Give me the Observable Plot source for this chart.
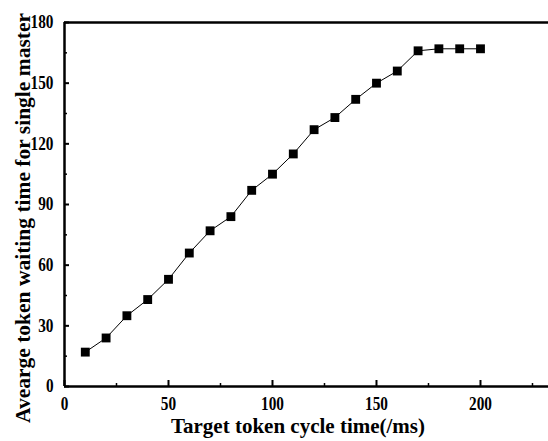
<!DOCTYPE html>
<html><head><meta charset="utf-8">
<script src="https://cdn.jsdelivr.net/npm/d3@7"></script>
<script src="https://cdn.jsdelivr.net/npm/@observablehq/plot@0.6"></script>
<style>
html,body{margin:0;padding:0;background:#fff;}
svg{font-family:"Liberation Serif","Times New Roman",serif;}
</style>
</head><body>
<div id="chart"></div>
<script>
const cycleTime = [10,20,30,40,50,60,70,80,90,100,110,120,130,140,150,160,170,180,190,200];
const waitTime = [17,24,35,43,53,66,77,84,97,105,115,127,133,142,150,156,166,167,167,167];
const xMajor = [0,50,100,150,200];
const xMinor = [25,75,125,175,225];
const yMajor = [0,30,60,90,120,150,180];
const yMinor = [15,45,75,105,135,165];
const xLabel = "Target token cycle time(/ms)";
const yLabel = "Avearge token waiting time for single master";

const data = cycleTime.map((x,i)=>({x, y: waitTime[i]}));
const W = 548, H = 441, mL = 64, mR = 0, mT = 22, mB = 55;
const frameH = H - mT - mB, frameW = W - mL - mR;
const serif = '"Liberation Serif","Times New Roman",serif';

const plot = Plot.plot({
  width: W, height: H,
  marginLeft: mL, marginRight: mR, marginTop: mT, marginBottom: mB,
  style: {fontFamily: serif, background: "#fff"},
  x: {domain: [0, 232.7]},
  y: {domain: [0, 180]},
  marks: [
    Plot.axisX({ticks: xMajor, tickSize: 0, tickPadding: 11, label: null, fontSize: 18, fontWeight: "bold", fill: "#000"}),
    Plot.axisY({ticks: yMajor, tickSize: 0, tickPadding: 11, label: null, fontSize: 18, fontWeight: "bold", fill: "#000"}),
    Plot.tickX(xMajor, {x: d=>d, insetTop: frameH - 6, stroke: "#000", strokeWidth: 2}),
    Plot.tickX(xMinor, {x: d=>d, insetTop: frameH - 3, stroke: "#000", strokeWidth: 1.5}),
    Plot.tickY(yMajor, {y: d=>d, insetRight: frameW - 5, stroke: "#000", strokeWidth: 2}),
    Plot.tickY(yMinor, {y: d=>d, insetRight: frameW - 3, stroke: "#000", strokeWidth: 1.5}),
    Plot.ruleY([0], {stroke: "#000", strokeWidth: 2.5}),
    Plot.ruleY([180], {stroke: "#000", strokeWidth: 2.5}),
    Plot.ruleX([0], {stroke: "#000", strokeWidth: 2.5}),
    Plot.line(data, {x: "x", y: "y", stroke: "#000", strokeWidth: 1}),
    Plot.dot(data, {x: "x", y: "y", symbol: "square", r: 5, fill: "#000", stroke: "none"})
  ]
});
const svg = d3.select(plot);
svg.append("text")
  .attr("x", 298).attr("y", 433)
  .attr("text-anchor", "middle")
  .attr("font-size", 21).attr("font-weight", "bold").attr("fill", "#000")
  .text(xLabel);
svg.append("text")
  .attr("transform", "translate(30,218) rotate(-90)")
  .attr("text-anchor", "middle")
  .attr("font-size", 21.5).attr("font-weight", "bold").attr("fill", "#000")
  .text(yLabel);
document.getElementById("chart").appendChild(plot);
svg.selectAll('g[aria-label$="tick label"] text').each(function(){
  const len = this.getComputedTextLength();
  if (len > 0) {
    this.setAttribute("textLength", (len * 0.85).toFixed(1));
    this.setAttribute("lengthAdjust", "spacingAndGlyphs");
  }
});
</script>
</body></html>
